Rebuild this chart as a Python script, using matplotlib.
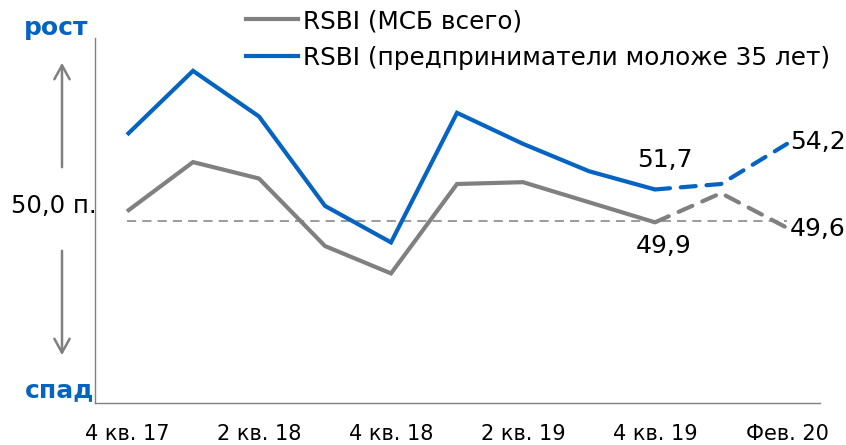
import matplotlib
matplotlib.use("Agg")
import matplotlib.pyplot as plt
from matplotlib.lines import Line2D

categories = ["4 кв. 17", "1 кв. 18", "2 кв. 18", "3 кв. 18", "4 кв. 18",
              "1 кв. 19", "2 кв. 19", "3 кв. 19", "4 кв. 19", "Янв. 20", "Фев. 20"]
rsbi_total = [50.5, 53.2, 52.3, 48.6, 47.1, 52.0, 52.1, 51.0, 49.9, 51.5, 49.6]
rsbi_young = [54.7, 58.2, 55.7, 50.8, 48.8, 55.9, 54.2, 52.7, 51.7, 52.0, 54.2]
series_names = ["RSBI (МСБ всего)", "RSBI (предприниматели моложе 35 лет)"]
baseline = 50.0
baseline_label = "50,0 п."
up_label = "рост"
down_label = "спад"

GRAY = "#808080"
BLUE = "#0563C1"
FONT = "DejaVu Sans"
plt.rcParams['font.family'] = [FONT]

W, H = 846, 445
fig = plt.figure(figsize=(W / 100, H / 100), dpi=100)
ax = fig.add_axes([95 / W, 1 - 403 / H, (820 - 95) / W, (403 - 38) / H])

x = list(range(len(categories)))
split = 8  # last actual quarterly point; later points dashed

ax.plot(x, [baseline] * len(x), color=GRAY, lw=1.1, ls=(0, (6, 4)), zorder=1)

lw = 3.0
for vals, col in [(rsbi_total, GRAY), (rsbi_young, BLUE)]:
    ax.plot(x[:split + 1], vals[:split + 1], color=col, lw=lw,
            solid_joinstyle="miter", solid_capstyle="butt", zorder=3)
    ax.plot(x[split:], vals[split:], color=col, lw=lw, ls=(0, (3.6, 2.6)),
            dash_capstyle="round", zorder=3)

def fmt(v):
    return f"{v:.1f}".replace(".", ",")

fs_lab = 18
ax.annotate(fmt(rsbi_young[split]), (x[split], rsbi_young[split]), xytext=(7, 21),
            textcoords="offset points", ha="center", va="center", fontsize=fs_lab)
ax.annotate(fmt(rsbi_total[split]), (x[split], rsbi_total[split]), xytext=(6, -17),
            textcoords="offset points", ha="center", va="center", fontsize=fs_lab)
ax.annotate(fmt(rsbi_young[-1]), (x[-1], rsbi_young[-1]), xytext=(2, 1),
            textcoords="offset points", ha="left", va="center", fontsize=fs_lab)
ax.annotate(fmt(rsbi_total[-1]), (x[-1], rsbi_total[-1]), xytext=(2, -1),
            textcoords="offset points", ha="left", va="center", fontsize=fs_lab)

ax.set_xlim(-0.485, 10.5)
ax.set_ylim(40, 60)
ax.set_xticks(x[::2])
ax.set_xticklabels(categories[::2], fontsize=15)
ax.tick_params(axis="x", length=0, pad=15)
ax.set_yticks([])
for s in ["top", "right"]:
    ax.spines[s].set_visible(False)
for s in ["left", "bottom"]:
    ax.spines[s].set_color(GRAY)
    ax.spines[s].set_linewidth(1.0)

# baseline label
fig.text(97 / W, 1 - 206 / H, baseline_label, ha="right", va="center", fontsize=17.5)
fig.text(56 / W, 1 - 28 / H, up_label, ha="center", va="center", fontsize=18,
         fontweight="bold", color=BLUE)
fig.text(60 / W, 1 - 390 / H, down_label, ha="center", va="center", fontsize=18,
         fontweight="bold", color=BLUE)

arrow_kw = dict(arrowstyle="->,head_length=1.0,head_width=0.55", color=GRAY, lw=1.8)
ax.annotate("", xy=(62 / W, 1 - 60 / H), xytext=(62 / W, 1 - 170 / H),
            xycoords="figure fraction", textcoords="figure fraction",
            arrowprops=arrow_kw, annotation_clip=False)
ax.annotate("", xy=(62 / W, 1 - 358 / H), xytext=(62 / W, 1 - 248 / H),
            xycoords="figure fraction", textcoords="figure fraction",
            arrowprops=arrow_kw, annotation_clip=False)

handles = [Line2D([], [], color=GRAY, lw=lw), Line2D([], [], color=BLUE, lw=lw)]
fig.legend(handles, series_names, loc="upper left",
           bbox_to_anchor=(246 / W, 1 - 9 / H), frameon=False, fontsize=17.8,
           handlelength=2.1, handletextpad=0.2, labelspacing=0.52,
           borderaxespad=0, borderpad=0)

fig.savefig("out.png", dpi=100)
